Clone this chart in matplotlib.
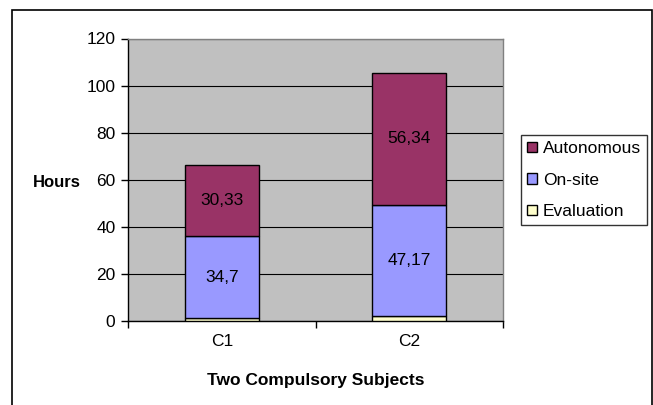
import matplotlib
matplotlib.use("Agg")
import matplotlib.pyplot as plt
from matplotlib.patches import Rectangle
import numpy as np

plt.rcParams['font.family'] = ['Liberation Sans', 'DejaVu Sans']

categories = ["C1", "C2"]
evaluation = [1.3, 2.0]
on_site = [34.7, 47.17]
autonomous = [30.33, 56.34]
on_site_labels = ["34,7", "47,17"]
autonomous_labels = ["30,33", "56,34"]
y_ticks = [0, 20, 40, 60, 80, 100, 120]

FS = 12.5

fig = plt.figure(figsize=(6.53, 4.05), dpi=100)
ax = fig.add_axes([128 / 653, 1 - 321 / 405, 375 / 653, (321 - 38.5) / 405])
ax.set_facecolor("#C0C0C0")

x = np.arange(len(categories)) + 0.5
width = 0.395
edge = dict(edgecolor="black", linewidth=1.0, zorder=3)
ev = ax.bar(x, evaluation, width, color="#FFFFCC", label="Evaluation", **edge)
on = ax.bar(x, on_site, width, bottom=evaluation, color="#9999FF", label="On-site", **edge)
base2 = np.array(evaluation) + np.array(on_site)
au = ax.bar(x, autonomous, width, bottom=base2, color="#993366", label="Autonomous", **edge)

for xi, b, v, t in zip(x, evaluation, on_site, on_site_labels):
    ax.text(xi, b + v / 2, t, ha="center", va="center", fontsize=FS, zorder=4)
for xi, b, v, t in zip(x, base2, autonomous, autonomous_labels):
    ax.text(xi, b + v / 2, t, ha="center", va="center", fontsize=FS, zorder=4)

ax.set_xlim(0, 2)
ax.set_ylim(0, 120)
ax.set_yticks(y_ticks)
ax.yaxis.grid(True, color="black", linewidth=0.8, zorder=1)
ax.set_axisbelow(True)

ax.set_xticks([0, 1, 2])
ax.set_xticklabels([])
ax.set_xticks(x, minor=True)
ax.set_xticklabels(categories, minor=True, fontsize=FS)
ax.tick_params(axis="x", which="minor", length=0, pad=9)
ax.tick_params(axis="x", which="major", length=5, width=1, direction="out", color="black")
ax.tick_params(axis="y", length=5, width=1, direction="out", labelsize=FS, pad=4)

for side in ("top", "right"):
    ax.spines[side].set_color("#808080")
    ax.spines[side].set_linewidth(1.0)
for side in ("left", "bottom"):
    ax.spines[side].set_color("black")
    ax.spines[side].set_linewidth(1.0)

ax.set_xlabel("Two Compulsory Subjects", fontsize=12.5, fontweight="bold", labelpad=18)
ax.set_ylabel("Hours", fontsize=12, fontweight="bold", rotation=0, labelpad=0)
ax.yaxis.set_label_coords(-0.19, 0.462)

handles = [au, on, ev]
leg = fig.legend(handles, ["Autonomous", "On-site", "Evaluation"],
                 loc="upper left", bbox_to_anchor=(521 / 653, 1 - 135 / 405),
                 frameon=True, fancybox=False, shadow=False, fontsize=FS,
                 handlelength=0.55, handleheight=0.55, handletextpad=0.35,
                 labelspacing=0.95, borderpad=0.35, borderaxespad=0)
leg.get_frame().set_edgecolor("black")
leg.get_frame().set_linewidth(1.0)

# outer chart border
fig.patches.append(Rectangle((11.5 / 653, -0.01), (651.5 - 11.5) / 653, 1 - 9.5 / 405 + 0.01,
                             transform=fig.transFigure, fill=False,
                             edgecolor="black", linewidth=1.2))

fig.savefig("out.png", dpi=100)
